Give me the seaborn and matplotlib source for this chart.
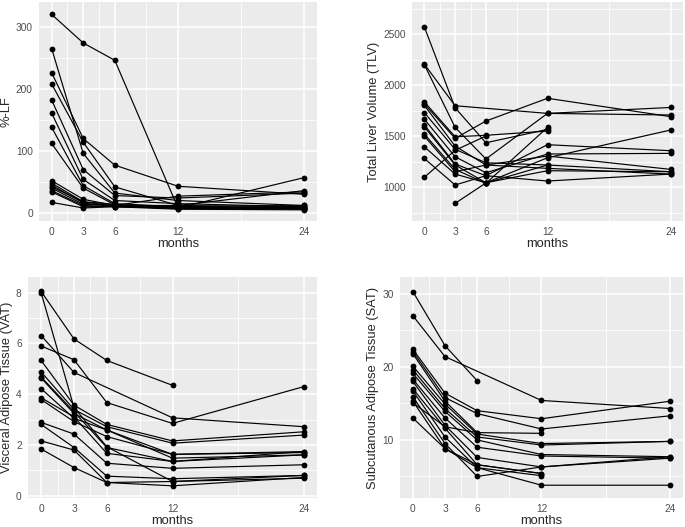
import matplotlib
matplotlib.use("Agg")
import matplotlib.pyplot as plt
import seaborn as sns
import pandas as pd
import numpy as np

nan = np.nan
months = [0, 3, 6, 12, 24]

# one row per subject: values at 0, 3, 6, 12, 24 months
lf_values = [
    [320, 274, 246, 8, 57],
    [265, 96, 32, 20, 12],
    [226, 120, 77, 43, 30],
    [208, 114, 42, 12, 36],
    [182, 70, 28, 24, 32],
    [161, 54, 20, 15, 10],
    [138, 44, 15, 10, 8],
    [112, 40, 13, 8, 6],
    [52, 22, 12, 27, 34],
    [48, 18, 11, 10, 12],
    [45, 16, 10, 6, 5],
    [40, 14, 12, 12, 10],
    [36, 12, 10, 8, 9],
    [34, 10, 11, 7, 7],
    [17, 8, 10, 9, 8],
    [42, 18, 14, nan, nan],
]

tlv_values = [
    [2570, 1777, 1434, 1565, nan],
    [2205, 1797, nan, 1722, 1706],
    [2200, 1585, 1275, 1722, 1780],
    [1835, 1493, 1507, 1549, nan],
    [1815, 1477, 1647, 1870, 1690],
    [1800, 1402, 1216, 1304, 1173],
    [1730, 1370, 1238, 1216, 1150],
    [1665, 1297, 1140, 1324, 1330],
    [1610, 1225, 1111, 1415, 1356],
    [1590, 1216, 1042, 1287, 1559],
    [1520, 1173, 1036, 1585, nan],
    [1500, 1150, 1216, 1183, 1127],
    [1395, 1127, 1042, 1160, 1150],
    [1280, 1020, 1111, 1059, 1127],
    [1095, 1360, 1500, nan, nan],
    [nan, 840, 1040, 1216, nan],
]

vat_values = [
    [8.05, 6.18, 5.33, 4.35, nan],
    [8.00, 3.48, 1.93, 0.56, 0.80],
    [6.31, 4.86, nan, 3.07, 2.72],
    [5.90, 5.36, 3.67, 2.85, 4.30],
    [5.33, 3.57, 2.81, 2.16, 2.52],
    [4.88, 3.40, 2.72, 2.07, 2.39],
    [4.68, 3.31, 1.90, 1.35, 1.61],
    [4.64, 3.24, 2.59, 1.63, 1.74],
    [4.22, 3.05, 2.59, 1.48, 1.61],
    [3.86, 3.11, 1.67, 1.35, 1.74],
    [3.79, 2.92, 2.33, 1.63, 1.70],
    [2.89, 2.43, 1.28, 1.08, 1.22],
    [2.81, 1.90, 0.77, 0.67, 0.80],
    [2.16, 1.80, 0.52, 0.56, 0.69],
    [1.84, 1.11, 0.52, 0.39, 0.72],
]

sat_values = [
    [30.3, 22.9, 18.1, nan, nan],
    [27.0, 21.4, nan, 15.4, 14.3],
    [22.4, 16.4, 14.0, 12.9, 15.3],
    [22.1, 15.8, 13.6, 11.5, 13.3],
    [21.8, 15.3, 11.0, 10.9, nan],
    [20.1, 14.9, 10.8, 9.5, 9.8],
    [19.6, 14.3, 10.4, 9.3, 9.8],
    [19.1, 13.9, 10.0, 8.0, 7.7],
    [18.3, 13.0, 9.0, 7.8, 7.5],
    [18.0, 12.0, 7.6, 6.3, 7.7],
    [17.0, 11.6, 6.6, 5.4, nan],
    [16.7, 10.4, 6.2, 5.1, nan],
    [15.9, 9.5, 5.0, 6.3, 7.5],
    [15.3, 8.8, 6.2, 3.8, 3.8],
    [15.1, 11.8, 11.0, nan, nan],
    [13.0, 8.8, 6.6, 5.4, nan],
]

panels = [
    (lf_values, "%-LF", (-13, 340), [0, 100, 200, 300], [50, 150, 250]),
    (tlv_values, "Total Liver Volume (TLV)", (667, 2814), [1000, 1500, 2000, 2500], [750, 1250, 1750, 2250, 2750]),
    (vat_values, "Visceral Adipose Tissue (VAT)", (-0.09, 8.62), [0, 2, 4, 6, 8], [1, 3, 5, 7]),
    (sat_values, "Subcutanous Adipose Tissue (SAT)", (2.05, 32.3), [10, 20, 30], [5, 15, 25]),
]

# panel boxes in pixels: left, top, right, bottom
boxes = [(39, 2, 317, 221), (412, 2, 683, 221), (28, 277, 317, 498), (400, 277, 683, 498)]

sns.set_style("darkgrid", {"axes.facecolor": "#EBEBEB", "grid.color": "white"})
plt.rcParams['font.family'] = ['Liberation Sans', 'DejaVu Sans']

W, H = 685, 527
fig = plt.figure(figsize=(W / 100, H / 100), dpi=100)

for (vals, ylabel, ylim, yt, ymt), (l, t, r, b) in zip(panels, boxes):
    ax = fig.add_axes([l / W, 1 - b / H, (r - l) / W, (b - t) / H])
    rows = []
    for i, subj in enumerate(vals):
        for m, v in zip(months, subj):
            rows.append({"subject": i, "months": m, "value": v})
    df = pd.DataFrame(rows).dropna()
    sns.lineplot(data=df, x="months", y="value", units="subject", estimator=None,
                 color="black", lw=0.85, marker="o", markersize=4.2,
                 markeredgecolor="black", markeredgewidth=0, ax=ax, sort=True)
    ax.set_xlim(-1.2, 25.2)
    ax.set_ylim(*ylim)
    ax.set_xticks(months)
    ax.set_xticks([1.5, 4.5, 9, 18], minor=True)
    ax.set_yticks(yt)
    ax.set_yticks(ymt, minor=True)
    ax.grid(which="major", color="white", lw=1.1)
    ax.grid(which="minor", color="white", lw=0.55)
    for s in ax.spines.values():
        s.set_visible(False)
    ax.tick_params(which="major", length=3, width=0.8, color="#333333",
                   labelsize=7.3, labelcolor="#4D4D4D", pad=1.5)
    ax.tick_params(which="minor", length=0)
    ax.set_xlabel("months", fontsize=9.3, labelpad=0.8)
    ax.set_ylabel(ylabel, fontsize=9.3, labelpad=2.5)

fig.savefig("out.png", dpi=100)
